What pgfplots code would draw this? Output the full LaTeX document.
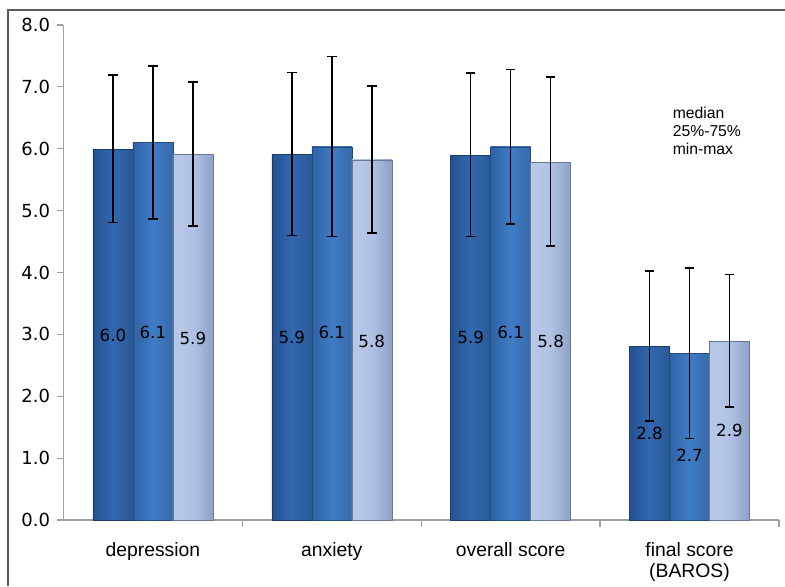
\documentclass[border=0pt]{standalone}
\usepackage{fontspec}
\setmainfont{Liberation Sans}
\newfontfamily\dejavu{DejaVu Sans}
\usepackage{pgfplots}
\usepackage{pgfplotstable}
\pgfplotsset{compat=1.18}
\definecolor{cAm}{RGB}{50,104,176}
\definecolor{cAe}{RGB}{36,82,146}
\definecolor{cBm}{RGB}{64,124,198}
\definecolor{cBe}{RGB}{46,98,166}
\definecolor{cCm}{RGB}{176,194,228}
\definecolor{cCe}{RGB}{142,160,198}
\definecolor{axgray}{RGB}{160,160,160}

\pgfplotstableread{
x y ep em
0 5.99 1.20 1.18
1 5.91 1.32 1.31
2 5.89 1.33 1.31
3 2.81 1.21 1.21
}\dataA
\pgfplotstableread{
x y ep em
0 6.10 1.24 1.24
1 6.03 1.46 1.45
2 6.03 1.25 1.25
3 2.69 1.38 1.37
}\dataB
\pgfplotstableread{
x y ep em
0 5.91 1.17 1.16
1 5.82 1.19 1.18
2 5.78 1.38 1.35
3 2.89 1.08 1.06
}\dataC
\pgfplotstableread{
x ypos lab
0 2.98 6.0
1 2.95 5.9
2 2.95 5.9
3 1.40 2.8
}\labA
\pgfplotstableread{
x ypos lab
0 3.03 6.1
1 3.03 6.1
2 3.03 6.1
3 1.05 2.7
}\labB
\pgfplotstableread{
x ypos lab
0 2.94 5.9
1 2.89 5.8
2 2.89 5.8
3 1.44 2.9
}\labC

\begin{document}
\begin{tikzpicture}
\path[use as bounding box] (0,0) rectangle (588.75pt,439.5pt);
\fill[white] (0,0) rectangle (588.75pt,439.5pt);
\draw[gray!70!black, line width=1pt] (6pt,0) -- (6pt,432pt) -- (588.75pt,432pt);
\begin{axis}[
  at={(47.6pt,49.5pt)}, anchor=south west,
  scale only axis, width=536.6pt, height=371.25pt,
  xmin=-0.5, xmax=3.5, ymin=0, ymax=8,
  axis lines=left, axis line style={-, axgray, line width=0.9pt},
  tick align=outside, major tick length=5pt,
  tick style={axgray, line width=0.9pt},
  ytick={0,1,...,8},
  yticklabel style={font=\dejavu\fontsize{13.5}{15}\selectfont, xshift=-1.5pt, /pgf/number format/.cd, fixed, fixed zerofill, precision=1, assume math mode=true},
  xtick={0.5,1.5,2.5,3.5}, xticklabels={},
  extra x ticks={0,1,2,3},
  extra x tick labels={depression, anxiety, overall score, {final score\\(BAROS)}},
  extra x tick style={major tick length=0pt, xticklabel style={font=\fontsize{14.5}{16}\selectfont, align=center, anchor=north, yshift=-13pt}},
  clip=false,
]
\pgfplotsinvokeforeach{0,1,2,3}{
\addplot[ybar, bar width=30pt, bar shift=-30pt, draw=cAe!75!black, line width=0.4pt, left color=cAe, right color=cAm!85!black, middle color=cAm, restrict x to domain=#1:#1] table[x=x, y=y]{\dataA};
\addplot[ybar, bar width=30pt, bar shift=0pt, draw=cBe!75!black, line width=0.4pt, left color=cBe, right color=cBm!85!black, middle color=cBm, restrict x to domain=#1:#1] table[x=x, y=y]{\dataB};
\addplot[ybar, bar width=30pt, bar shift=30pt, draw=cCe!75!black, line width=0.4pt, left color=cCm!90!white, right color=cCe, middle color=cCm, restrict x to domain=#1:#1] table[x=x, y=y]{\dataC};
}

\addplot[draw=none, mark=none, error bars/.cd, y dir=both, y explicit, error bar style={draw=black, line width=1.2pt}, error mark options={draw=black, rotate=90, mark size=3.6pt, line width=1.2pt}] table[x expr=\thisrow{x}-0.2235, y=y, y error plus=ep, y error minus=em]{\dataA};
\addplot[draw=none, mark=none, error bars/.cd, y dir=both, y explicit, error bar style={draw=black, line width=1.2pt}, error mark options={draw=black, rotate=90, mark size=3.6pt, line width=1.2pt}] table[x=x, y=y, y error plus=ep, y error minus=em]{\dataB};
\addplot[draw=none, mark=none, error bars/.cd, y dir=both, y explicit, error bar style={draw=black, line width=1.2pt}, error mark options={draw=black, rotate=90, mark size=3.6pt, line width=1.2pt}] table[x expr=\thisrow{x}+0.2235, y=y, y error plus=ep, y error minus=em]{\dataC};

\pgfplotsset{labstyle/.style={only marks, mark=o, mark size=0pt, mark options={draw=none}, nodes near coords, point meta=explicit symbolic, every node near coord/.append style={anchor=center, font=\dejavu\fontsize{12.5}{14}\selectfont, text=black}}}
\addplot[labstyle] table[x expr=\thisrow{x}-0.2235, y=ypos, meta=lab]{\labA};
\addplot[labstyle] table[x=x, y=ypos, meta=lab]{\labB};
\addplot[labstyle] table[x expr=\thisrow{x}+0.2235, y=ypos, meta=lab]{\labC};

\node[anchor=north west, align=left, font=\fontsize{11.8}{13.5}\selectfont, inner sep=0pt] at (axis cs:2.905,6.68) {median\\25\%-75\%\\min-max};
\end{axis}
\end{tikzpicture}
\end{document}
